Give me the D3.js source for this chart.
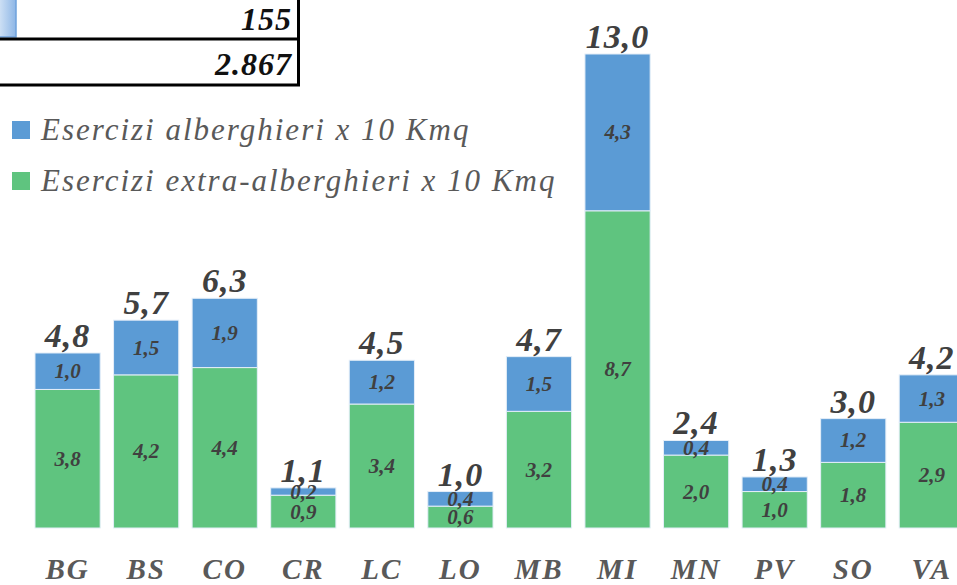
<!DOCTYPE html>
<html>
<head>
<meta charset="utf-8">
<script src="https://cdn.jsdelivr.net/npm/d3@7"></script>
<style>
  body { margin: 0; background: #fff; }
  svg { display: block; }
  text { font-family: "Liberation Serif", "DejaVu Serif", serif; font-style: italic; }
</style>
</head>
<body>
<div id="chart"></div>
<script>
const categories = ['BG', 'BS', 'CO', 'CR', 'LC', 'LO', 'MB', 'MI', 'MN', 'PV', 'SO', 'VA'];
const alberghieri = [1.0, 1.5, 1.9, 0.2, 1.2, 0.4, 1.5, 4.3, 0.4, 0.4, 1.2, 1.3];
const extraAlberghieri = [3.8, 4.2, 4.4, 0.9, 3.4, 0.6, 3.2, 8.7, 2.0, 1.0, 1.8, 2.9];
const totals = [4.8, 5.7, 6.3, 1.1, 4.5, 1.0, 4.7, 13.0, 2.4, 1.3, 3.0, 4.2];
const seriesNames = ['Esercizi alberghieri x 10 Kmq', 'Esercizi extra-alberghieri x 10 Kmq'];
const tableValues = ['155', '2.867'];

const width = 957, height = 585;
const blue = '#5b9bd5', green = '#5fc47f';
const fmt = v => d3.format('.1f')(v).replace('.', ',');

const svg = d3.select('#chart').append('svg')
  .attr('width', width)
  .attr('height', height);

const x = d3.scaleBand()
  .domain(categories)
  .range([28.7, 970.7])
  .paddingInner(0.17)
  .paddingOuter(0.08);

const y = d3.scaleLinear()
  .domain([0, 13])
  .range([528, 54]);

const rows = categories.map((c, i) => ({ cat: c, extra: extraAlberghieri[i], alb: alberghieri[i], total: totals[i] }));
const stack = d3.stack().keys(['extra', 'alb'])(rows);
const colors = { extra: green, alb: blue };

// bars
svg.append('g').selectAll('g')
  .data(stack)
  .enter().append('g')
  .attr('fill', d => colors[d.key])
  .selectAll('rect')
  .data(d => d)
  .enter().append('rect')
  .attr('x', d => x(d.data.cat))
  .attr('y', d => y(d[1]))
  .attr('width', x.bandwidth())
  .attr('height', d => y(d[0]) - y(d[1]))
  .attr('stroke', '#e4eef8')
  .attr('stroke-width', 1);

// segment labels
stack.forEach(layer => {
  svg.append('g').selectAll('text')
    .data(layer)
    .enter().append('text')
    .attr('x', d => x(d.data.cat) + x.bandwidth() / 2)
    .attr('y', d => (y(d[0]) + y(d[1])) / 2 + 7)
    .attr('text-anchor', 'middle')
    .attr('font-size', 21)
    .attr('font-weight', 'bold')
    .attr('fill', '#404040')
    .text(d => fmt(d.data[layer.key]));
});

// totals
svg.append('g').selectAll('text')
  .data(rows)
  .enter().append('text')
  .attr('x', d => x(d.cat) + x.bandwidth() / 2)
  .attr('y', d => y(d.extra + d.alb) - 6)
  .attr('text-anchor', 'middle')
  .attr('font-size', 34)
  .attr('font-weight', 'bold')
  .attr('letter-spacing', 1)
  .attr('fill', '#404040')
  .text(d => fmt(d.total));

// category axis
const xAxis = svg.append('g')
  .attr('transform', 'translate(0,528)')
  .call(d3.axisBottom(x).tickSize(0).tickPadding(30));
xAxis.select('.domain').remove();
xAxis.selectAll('text')
  .attr('font-size', 29)
  .attr('font-weight', 'bold')
  .attr('letter-spacing', 2)
  .attr('fill', '#595959')
  .style('font-family', '"Liberation Serif", serif');

// legend
const legend = svg.append('g').selectAll('g')
  .data(seriesNames)
  .enter().append('g')
  .attr('transform', (d, i) => 'translate(12,' + (121 + i * 51) + ')');
legend.append('rect')
  .attr('width', 18)
  .attr('height', 18)
  .attr('fill', (d, i) => i === 0 ? blue : green);
legend.append('text')
  .attr('x', 29)
  .attr('y', 19)
  .attr('font-size', 31)
  .attr('letter-spacing', 2)
  .attr('fill', '#595959')
  .text(d => d);

// table fragment at top-left
const tbl = svg.append('g');
const grad = svg.append('defs').append('linearGradient').attr('id', 'cellGrad');
grad.append('stop').attr('offset', '0%').attr('stop-color', '#d4e4f6');
grad.append('stop').attr('offset', '100%').attr('stop-color', '#8db6e6');
tbl.append('rect').attr('x', -2).attr('y', -2).attr('width', 18).attr('height', 39)
  .attr('fill', 'url(#cellGrad)').attr('stroke', '#6fa2dc').attr('stroke-width', 1.5);
tbl.append('line').attr('x1', 0).attr('x2', 300).attr('y1', 39).attr('y2', 39)
  .attr('stroke', '#000').attr('stroke-width', 3);
tbl.append('line').attr('x1', 0).attr('x2', 300).attr('y1', 85).attr('y2', 85)
  .attr('stroke', '#000').attr('stroke-width', 3);
tbl.append('line').attr('x1', 298.5).attr('x2', 298.5).attr('y1', 0).attr('y2', 86)
  .attr('stroke', '#000').attr('stroke-width', 3);
tbl.selectAll('text.v')
  .data(tableValues)
  .enter().append('text')
  .attr('x', 292)
  .attr('y', (d, i) => 30 + i * 45)
  .attr('text-anchor', 'end')
  .attr('font-size', 32)
  .attr('font-weight', 'bold')
  .attr('letter-spacing', 1)
  .attr('fill', '#111')
  .text(d => d);
</script>
</body>
</html>
